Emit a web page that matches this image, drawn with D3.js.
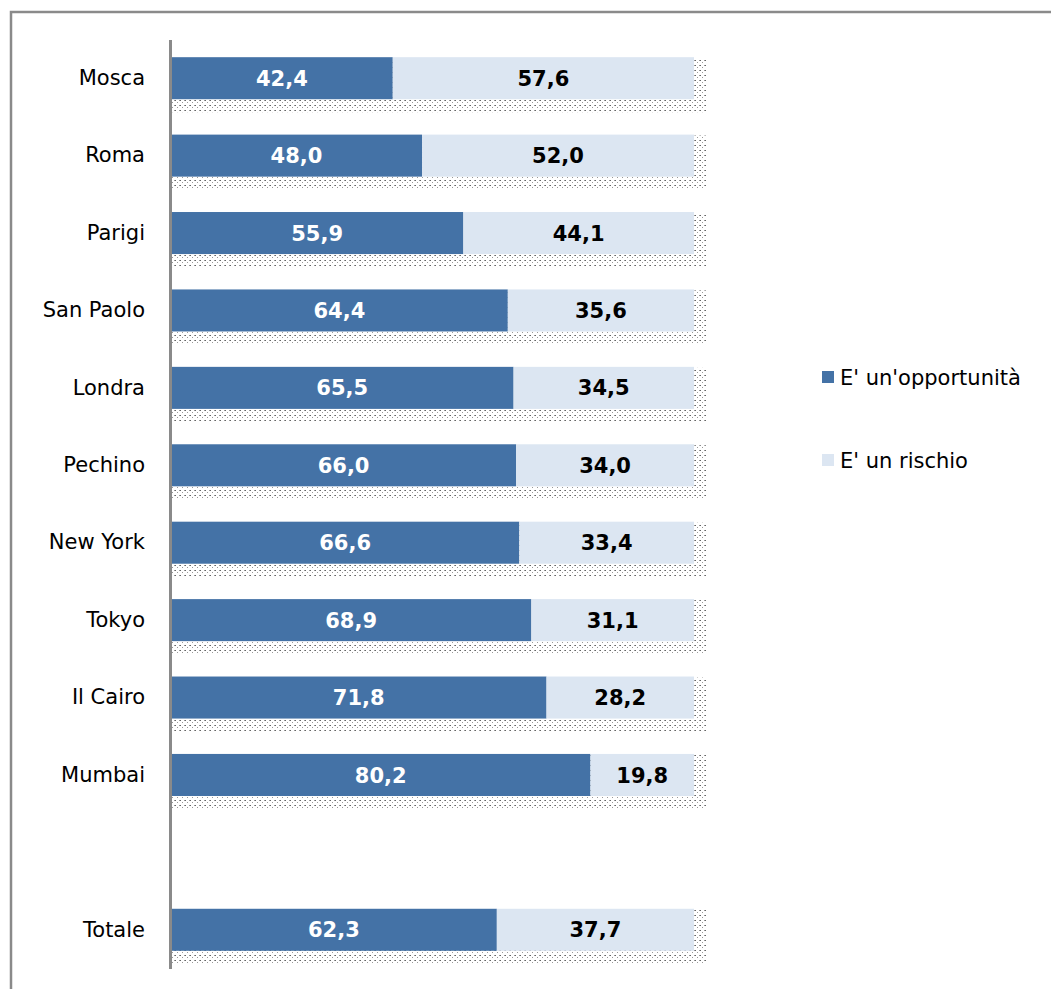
<!DOCTYPE html>
<html><head><meta charset="utf-8">
<script src="https://cdn.jsdelivr.net/npm/d3@7"></script>
<style>body{margin:0;background:#fff}svg{display:block}</style>
</head><body>
<script>
const categories = ["Mosca","Roma","Parigi","San Paolo","Londra","Pechino","New York","Tokyo","Il Cairo","Mumbai"," ","Totale"];
const opportunita = [42.4,48.0,55.9,64.4,65.5,66.0,66.6,68.9,71.8,80.2,null,62.3];
const rischio     = [57.6,52.0,44.1,35.6,34.5,34.0,33.4,31.1,28.2,19.8,null,37.7];
const seriesNames = ["E' un'opportunità","E' un rischio"];
const colors = ["#4472a6","#dce6f2"];

const W = 1051, H = 989;
const svg = d3.select("body").append("svg").attr("width", W).attr("height", H);
const defs = svg.append("defs");
const pat = defs.append("pattern").attr("id","shade").attr("patternUnits","userSpaceOnUse")
  .attr("width",5).attr("height",5);
pat.append("rect").attr("x",0).attr("y",0).attr("width",1).attr("height",1).attr("fill","#666");
pat.append("rect").attr("x",2).attr("y",2).attr("width",1).attr("height",1).attr("fill","#999");
pat.append("rect").attr("x",4).attr("y",0).attr("width",1).attr("height",1).attr("fill","#999");

// frame
svg.append("path").attr("d","M11,995 L11,12 L1060,12").attr("fill","none")
  .attr("stroke","#8a8a8a").attr("stroke-width",2.5);

const x = d3.scaleLinear().domain([0,100]).range([171,694]);
const y = d3.scaleBand().domain(categories).range([39.5,968.5]).paddingInner(0.457).paddingOuter(0.2285);

const rows = categories.map((c,i)=>({c, a:opportunita[i], b:rischio[i]})).filter(d=>d.a!==null);

const g = svg.append("g");
// shadows
g.selectAll("rect.sh").data(rows).enter().append("rect")
  .attr("x", x(0)).attr("y", d=>y(d.c)+1)
  .attr("width", x(100)-x(0)+13).attr("height", y.bandwidth()+12)
  .attr("fill","url(#shade)");
// bars
g.selectAll("rect.a").data(rows).enter().append("rect")
  .attr("x", x(0)).attr("y", d=>y(d.c)).attr("width", d=>x(d.a)-x(0)).attr("height", y.bandwidth())
  .attr("fill", colors[0]);
g.selectAll("rect.b").data(rows).enter().append("rect")
  .attr("x", d=>x(d.a)).attr("y", d=>y(d.c)).attr("width", d=>x(d.a+d.b)-x(d.a)).attr("height", y.bandwidth())
  .attr("fill", colors[1]);

const fmt = v => d3.format(".1f")(v).replace(".",",");
g.selectAll("text.a").data(rows).enter().append("text")
  .attr("x", d=>(x(0)+x(d.a))/2).attr("y", d=>y(d.c)+y.bandwidth()/2).attr("dy","0.36em")
  .attr("text-anchor","middle").attr("font-family","DejaVu Sans").attr("font-weight","bold")
  .attr("font-size",21).attr("fill","#fff").text(d=>fmt(d.a));
g.selectAll("text.b").data(rows).enter().append("text")
  .attr("x", d=>(x(d.a)+x(d.a+d.b))/2).attr("y", d=>y(d.c)+y.bandwidth()/2).attr("dy","0.36em")
  .attr("text-anchor","middle").attr("font-family","DejaVu Sans").attr("font-weight","bold")
  .attr("font-size",21).attr("fill","#000").text(d=>fmt(d.b));

// axis
const ax = svg.append("g").attr("transform","translate(170,0)")
  .call(d3.axisLeft(y).tickSize(0).tickPadding(25));
ax.select(".domain").attr("stroke","#8a8a8a").attr("stroke-width",3);
ax.selectAll("text").attr("font-family","DejaVu Sans").attr("font-size",21).attr("fill","#000");

// legend
const leg = svg.append("g");
seriesNames.forEach((n,i)=>{
  const ly = 377 + i*83;
  leg.append("rect").attr("x",822).attr("y",ly-6).attr("width",12).attr("height",12).attr("fill",colors[i]);
  leg.append("text").attr("x",840).attr("y",ly).attr("dy","0.36em")
    .attr("font-family","DejaVu Sans").attr("font-size",21).attr("fill","#000").text(n);
});
</script>
</body></html>
